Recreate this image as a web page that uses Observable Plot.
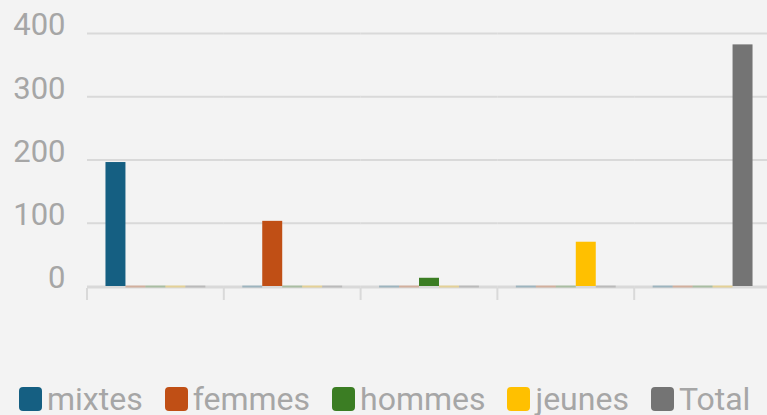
<!DOCTYPE html>
<html><head><meta charset="utf-8">
<script src="https://cdn.jsdelivr.net/npm/d3@7"></script>
<script src="https://cdn.jsdelivr.net/npm/@observablehq/plot@0.6"></script>
<style>
html,body{margin:0;padding:0;background:#f3f3f3;overflow:hidden;width:767px;height:415px;}
#chart svg{display:block;overflow:visible;max-width:none !important;}
.legend{display:flex;align-items:center;padding-left:19px;height:32px;margin-top:11px;font-family:Roboto,sans-serif;font-size:32px;color:#a6a6a6;white-space:nowrap;}
.item{display:flex;align-items:center;margin-right:22px;}
.sw{width:23px;height:24px;border-radius:4px;margin-right:5px;flex:none;}
.lab{line-height:32px;}
</style></head><body><div id="chart"></div><script>
const groups = ["mixtes","femmes","hommes","jeunes","Total"];
const series = ["mixtes","femmes","hommes","jeunes","Total"];
const values = [196, 103, 13, 70, 382];
const colors = ["#155f82","#c04f15","#3b7d23","#ffc000","#747474"];
const yTicks = [0, 100, 200, 300, 400];

const table = [];
groups.forEach((g, i) => series.forEach((s, j) => table.push({group: g, series: s, value: i === j ? values[i] : 0})));

const grid = "#d9d9d9";
const plot = Plot.plot({
  width: 772, height: 372,
  marginLeft: 87, marginRight: 1, marginTop: 33, marginBottom: 86,
  style: {background: "transparent", fontFamily: "Roboto, sans-serif", fontSize: "31px", color: "#a6a6a6", maxWidth: "none"},
  fx: {domain: groups, padding: 0, axis: null, round: false},
  x: {domain: series, paddingInner: 0, paddingOuter: 0.925, axis: null, round: false},
  y: {domain: [0, 400], axis: null},
  color: {domain: series, range: colors},
  marks: [
    Plot.gridY(yTicks, {stroke: grid, strokeOpacity: 1, strokeWidth: 2}),
    Plot.axisY(yTicks, {tickSize: 0, tickPadding: 22, fontSize: 31, fill: "#a6a6a6", dy: -8, label: null, tickFormat: d => String(d)}),
    Plot.ruleY([0], {stroke: grid, strokeWidth: 2, dy: 1}),
    Plot.tickY(table.filter(d => d.value === 0), {fx: "group", x: "series", y: "value", stroke: "series", strokeOpacity: 0.3, strokeWidth: 2}),
    Plot.barY(table.filter(d => d.value > 0), {fx: "group", x: "series", y: "value", fill: "series"})
  ]
});
plot.style.maxWidth = "none";
document.getElementById("chart").appendChild(plot);

// category boundary ticks, positioned from the fx scale
const fx = plot.scale("fx");
const y = plot.scale("y");
const bounds = groups.map(g => fx.apply(g)).concat([fx.apply(groups[groups.length - 1]) + fx.bandwidth]);
const y0 = y.apply(0);
d3.select(plot).append("g").selectAll("line").data(bounds).join("line")
  .attr("x1", d => d).attr("x2", d => d)
  .attr("y1", y0 + 2).attr("y2", y0 + 14)
  .attr("stroke", grid).attr("stroke-width", 2);

// legend
const legend = d3.select("body").append("div").attr("class", "legend");
series.forEach((s, i) => {
  const it = legend.append("div").attr("class", "item");
  it.append("div").attr("class", "sw").style("background", colors[i]);
  it.append("span").attr("class", "lab").text(s);
});
</script></body></html>
